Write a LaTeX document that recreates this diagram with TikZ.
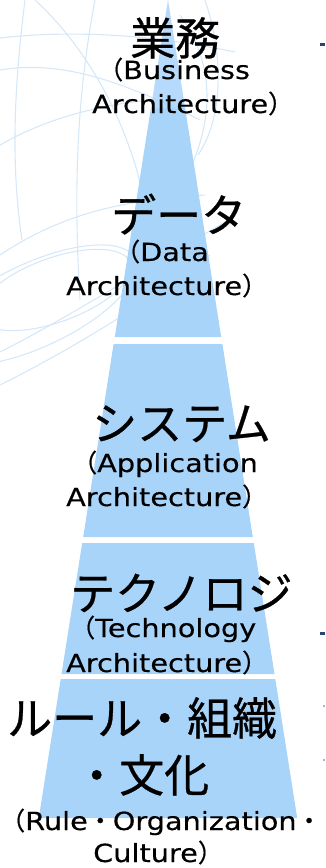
\documentclass[tikz,border=0pt]{standalone}
\usepackage{fontspec}
\setmainfont[FakeStretch=1.15,FakeBold=0.3]{DejaVu Sans}
\newfontfamily\cjk[FakeBold=0.6]{Noto Sans CJK JP}
\definecolor{pyr}{RGB}{168,212,250}
\definecolor{bgline}{RGB}{214,232,248}
\definecolor{markc}{RGB}{40,70,120}
\tikzset{
  layer/.style={fill=pyr, draw=none},
  bg/.style={draw=bgline, line width=1.1pt},
  jp/.style={font=\cjk\fontsize{45}{45}\selectfont, inner sep=0pt, anchor=base west},
  en/.style={font=\fontsize{25}{25}\selectfont, inner sep=0pt, anchor=base west},
}
\begin{document}
\begin{tikzpicture}[x=1pt,y=-1pt]
\useasboundingbox (0,0) rectangle (325,868);
% background globe lines
\begin{scope}
\clip (0,0) rectangle (240,420);
\draw[bg] (0,38) .. controls (70,30) and (150,34) .. (235,52);
\draw[bg] (0,145) .. controls (40,122) and (90,106) .. (150,100);
\draw[bg] (0,255) .. controls (60,215) and (120,200) .. (205,195);
\draw[bg] (25,0) .. controls (15,80) and (10,160) .. (22,240);
\draw[bg] (95,0) .. controls (80,80) and (72,170) .. (80,300);
\draw[bg] (35,0) .. controls (100,60) and (140,150) .. (150,235);
\draw[bg] (205,0) .. controls (225,60) and (222,120) .. (198,155);
\draw[bg] (180,15) .. controls (212,60) and (215,110) .. (192,165);
\draw[bg] (0,70) .. controls (60,60) and (120,80) .. (200,120);
\draw[bg, rotate around={20:(55,290)}] (55,290) ellipse [x radius=80, y radius=32];
\draw[bg, rotate around={25:(35,305)}] (35,305) ellipse [x radius=110, y radius=42];
\draw[bg] (0,352) .. controls (60,322) and (140,272) .. (225,222);
\draw[bg] (0,385) .. controls (80,345) and (150,300) .. (210,255);
\end{scope}
% pyramid layers
\fill[layer, opacity=0.85] (168,0) -- (185.1,108) -- (150.9,108) -- cycle;
\fill[layer] (150.9,108) -- (185.1,108) -- (221.2,337) -- (114.8,337) -- cycle;
\fill[layer] (113.6,344) -- (222.4,344) -- (252.8,537) -- (83.2,537) -- cycle;
\fill[layer] (82.2,543) -- (253.8,543) -- (274.5,674) -- (61.5,674) -- cycle;
\fill[layer] (60.7,679) -- (275.3,679) -- (297.2,818) -- (38.8,818) -- cycle;
% small marks at right edge
\fill[markc] (320,43) rectangle (325,46);
\fill[markc] (320,632) rectangle (325,635);
\fill[markc!40] (323,705) rectangle (325,707);
\fill[markc!40] (323,759) rectangle (325,761);
% texts
\node[jp] (t1) at (130,55) {業務};
\node[en] (t1a) at (98,79) {{\cjk （}Business};
\node[en] (t1b) at (92,113) {Architecture{\cjk ）}};
\node[jp] (t2) at (111,232) {データ};
\node[en] (t2a) at (115,261) {{\cjk （}Data};
\node[en] (t2b) at (66,295) {Architecture{\cjk ）}};
\node[jp] (t3) at (92,440) {システム};
\node[en] (t3a) at (72,472) {{\cjk （}Application};
\node[en] (t3b) at (66,506) {Architecture{\cjk ）}};
\node[jp] (t4) at (70,610) {テクノロジ};
\node[en] (t4a) at (70,637) {{\cjk （}Technology};
\node[en] (t4b) at (66,672) {Architecture{\cjk ）}};
\node[jp] (t5) at (7,735) {ルール・組織};
\node[jp] (t5b) at (74,792) {・文化};
\node[en] (t5c) at (0,830) {{\cjk （}Rule{\cjk ・}Organization{\cjk ・}};
\node[en] (t5d) at (93,862) {Culture{\cjk ）}};
\end{tikzpicture}
\end{document}
